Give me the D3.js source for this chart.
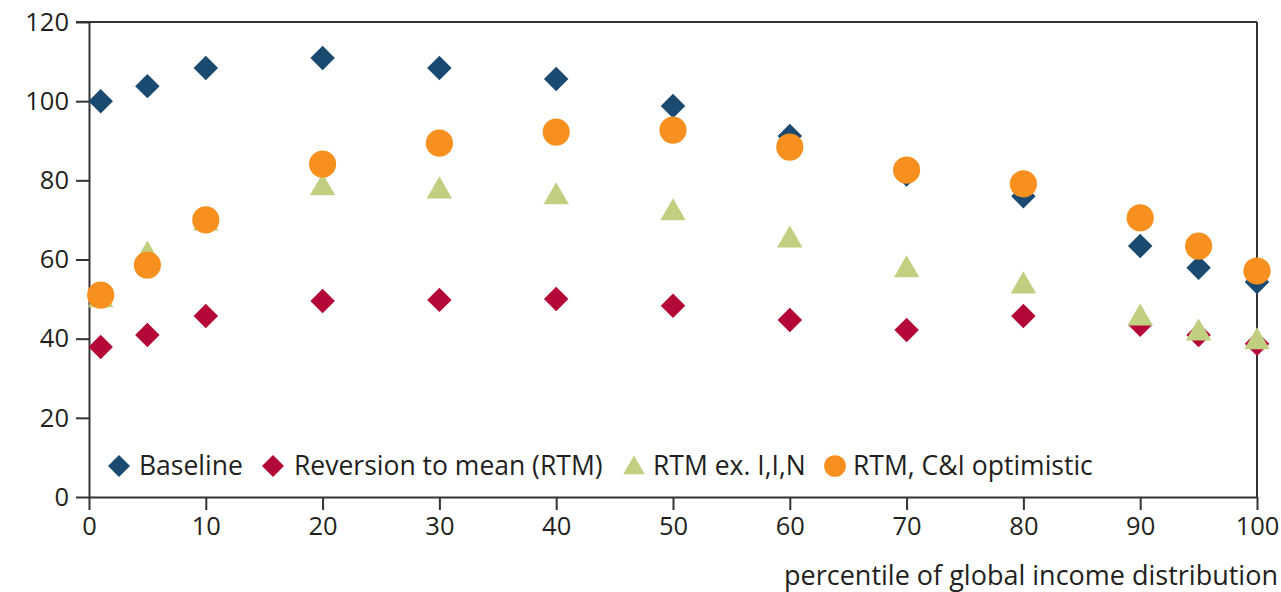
<!DOCTYPE html>
<html>
<head>
<meta charset="utf-8">
<script src="https://cdn.jsdelivr.net/npm/d3@7/dist/d3.min.js"></script>
<style>
  html, body { margin: 0; padding: 0; background: #ffffff; }
  svg text { font-family: "Open Sans", "Noto Sans", sans-serif; fill: #231f20; }
</style>
</head>
<body>
<svg id="chart" width="1281" height="592"></svg>
<script>
// Percentiles of the global income distribution
const percentiles = [1, 5, 10, 20, 30, 40, 50, 60, 70, 80, 90, 95, 100];

// Series values
const baseline   = [100.0, 103.8, 108.4, 110.9, 108.4, 105.6, 98.8, 91.2, 81.5, 76.0, 63.4, 57.9, 54.3];
const rtm        = [37.9, 40.9, 45.7, 49.5, 49.8, 50.0, 48.3, 44.7, 42.2, 45.7, 43.5, 40.9, 38.7];
const rtmExIIN   = [50.3, 61.6, 69.7, 78.6, 77.8, 76.3, 72.3, 65.4, 57.9, 53.8, 45.7, 41.9, 39.7];
const rtmCIOptim = [51.0, 58.6, 70.0, 84.1, 89.4, 92.2, 92.7, 88.4, 82.6, 79.1, 70.5, 63.4, 57.1];

// Tick labels
const xTicks = [0, 10, 20, 30, 40, 50, 60, 70, 80, 90, 100];
const yTicks = [0, 20, 40, 60, 80, 100, 120];

const seriesNames = ["Baseline", "Reversion to mean (RTM)", "RTM ex. I,I,N", "RTM, C&I optimistic"];
const xTitle = "percentile of global income distribution";

const series = [
  { name: seriesNames[0], values: baseline,   shape: "diamond",  color: "#1b4a71" },
  { name: seriesNames[1], values: rtm,        shape: "diamond",  color: "#b30838" },
  { name: seriesNames[2], values: rtmExIIN,   shape: "triangle", color: "#c1cf80" },
  { name: seriesNames[3], values: rtmCIOptim, shape: "circle",   color: "#f7901f" }
];

const svg = d3.select("#chart");
const plotLeft = 89, plotRight = 1257, plotTop = 22, plotBottom = 497;
const axisColor = "#333333";
const tickFont = 25.5, legendFont = 26.5, titleFont = 27;

const x = d3.scaleLinear().domain([0, 100]).range([plotLeft, plotRight]);
const y = d3.scaleLinear().domain([0, 120]).range([plotBottom, plotTop]);

function symbolPath(shape, scale) {
  const s = scale || 1;
  if (shape === "diamond") return d3.symbol(d3.symbolSquare, 300 * s * s)();
  if (shape === "triangle") return d3.symbol(d3.symbolTriangle, 280 * s * s)();
  return d3.symbol(d3.symbolCircle, 580 * s * s)();
}
function symbolTransform(shape, px, py) {
  if (shape === "diamond") return `translate(${px},${py}) rotate(45)`;
  if (shape === "triangle") return `translate(${px},${py + 2})`;
  return `translate(${px},${py})`;
}

// Axes with outward ticks
const yAxis = d3.axisLeft(y).tickValues(yTicks).tickSize(13).tickPadding(7).tickSizeOuter(0);
const xAxis = d3.axisBottom(x).tickValues(xTicks).tickSize(13).tickPadding(7).tickSizeOuter(0);

const gy = svg.append("g").attr("transform", `translate(${plotLeft},0)`).call(yAxis);
const gx = svg.append("g").attr("transform", `translate(0,${plotBottom})`).call(xAxis);
[gx, gy].forEach(g => {
  g.select(".domain").attr("stroke", axisColor).attr("stroke-width", 2);
  g.selectAll(".tick line").attr("stroke", axisColor).attr("stroke-width", 2);
  g.selectAll(".tick text").attr("font-size", tickFont).attr("fill", "#231f20")
    .style("font-family", '"Open Sans", "Noto Sans", sans-serif');
});

// Top and right frame lines
svg.append("line").attr("x1", plotLeft - 13).attr("x2", plotRight).attr("y1", plotTop).attr("y2", plotTop)
  .attr("stroke", axisColor).attr("stroke-width", 2);
svg.append("line").attr("x1", plotRight).attr("x2", plotRight).attr("y1", plotTop).attr("y2", plotBottom)
  .attr("stroke", axisColor).attr("stroke-width", 2);

// Markers
series.forEach(s => {
  svg.append("g").selectAll("path")
    .data(percentiles.map((p, i) => ({ p, v: s.values[i] })))
    .join("path")
    .attr("d", symbolPath(s.shape))
    .attr("transform", d => symbolTransform(s.shape, x(d.p), y(d.v)))
    .attr("fill", s.color);
});

// Legend
const legendItems = [
  { sx: 119, tx: 139 },
  { sx: 273, tx: 294 },
  { sx: 634, tx: 653 },
  { sx: 835, tx: 853 }
];
const legendY = 466;
series.forEach((s, i) => {
  const li = legendItems[i];
  const sc = s.shape === "triangle" ? 0.85 : (s.shape === "circle" ? 0.8 : 0.9);
  svg.append("path")
    .attr("d", symbolPath(s.shape, sc))
    .attr("transform", symbolTransform(s.shape, li.sx, legendY))
    .attr("fill", s.color);
  svg.append("text").attr("x", li.tx).attr("y", legendY + 9)
    .attr("font-size", legendFont).text(s.name);
});

// X axis title
svg.append("text").attr("x", 1278).attr("y", 585).attr("text-anchor", "end")
  .attr("font-size", titleFont).text(xTitle);
</script>
</body>
</html>
